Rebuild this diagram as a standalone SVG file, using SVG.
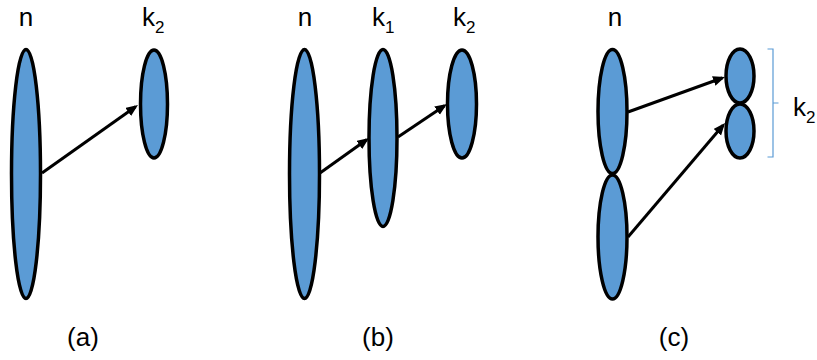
<svg xmlns="http://www.w3.org/2000/svg" width="817" height="360" viewBox="0 0 817 360">
<defs>
<style>
.node{fill:#5B9BD5;stroke:#000;stroke-width:3.5}
.edge{stroke:#000;stroke-width:3;fill:none;marker-end:url(#ah)}
.lbl{font-family:"Liberation Sans","Open Sans",sans-serif;font-size:26px;fill:#000}
.sub{font-size:17px}
.brk{stroke:#5B9BD5;stroke-width:1.2;fill:none}
</style>
<marker id="ah" markerUnits="userSpaceOnUse" markerWidth="13" markerHeight="11" refX="9" refY="5" orient="auto">
<path d="M0,0 L12,5 L0,10 z" fill="#000"/>
</marker>
</defs>
<rect width="817" height="360" fill="#fff"/>
<g id="panel-a">
<g id="a-n"><ellipse class="node" cx="26" cy="174" rx="14.5" ry="124.5"/></g>
<g id="a-k2"><ellipse class="node" cx="154" cy="104" rx="13.5" ry="54"/></g>
<text class="lbl" x="26" y="26" text-anchor="middle">n</text>
<text class="lbl" x="142" y="26">k<tspan class="sub" dy="7">2</tspan></text>
<text class="lbl" x="83" y="346" text-anchor="middle">(a)</text>
</g>
<g id="panel-b">
<g id="b-n"><ellipse class="node" cx="304.5" cy="174" rx="15" ry="124.5"/></g>
<g id="b-k1"><ellipse class="node" cx="383" cy="138" rx="14" ry="88.5"/></g>
<g id="b-k2"><ellipse class="node" cx="462" cy="104" rx="14.5" ry="54"/></g>
<text class="lbl" x="305" y="26" text-anchor="middle">n</text>
<text class="lbl" x="372" y="26">k<tspan class="sub" dy="7">1</tspan></text>
<text class="lbl" x="453" y="26">k<tspan class="sub" dy="7">2</tspan></text>
<text class="lbl" x="378" y="346" text-anchor="middle">(b)</text>
</g>
<g id="panel-c">
<g id="c-n1"><ellipse class="node" cx="612.5" cy="111.5" rx="14.5" ry="62"/></g>
<g id="c-n2"><ellipse class="node" cx="612.5" cy="237" rx="14.5" ry="62"/></g>
<g id="c-k2a"><ellipse class="node" cx="740" cy="76" rx="14" ry="27"/></g>
<g id="c-k2b"><ellipse class="node" cx="740" cy="131" rx="14" ry="27"/></g>
<text class="lbl" x="615" y="26" text-anchor="middle">n</text>
<path class="brk" d="M767.5,49 H773 V157 H767.5 M773,103 H778.5"/>
<text class="lbl" x="793" y="116">k<tspan class="sub" dy="7">2</tspan></text>
<text class="lbl" x="674" y="346" text-anchor="middle">(c)</text>
</g>
<g id="connectors">
<line class="edge" x1="42" y1="173" x2="135.5" y2="106.7"/>
<line class="edge" x1="320" y1="173" x2="366.6" y2="139.7"/>
<line class="edge" x1="398" y1="137" x2="444.5" y2="105.7"/>
<line class="edge" x1="628" y1="112" x2="722.2" y2="78"/>
<line class="edge" x1="628" y1="237" x2="723.1" y2="125.3"/>
</g>
</svg>
